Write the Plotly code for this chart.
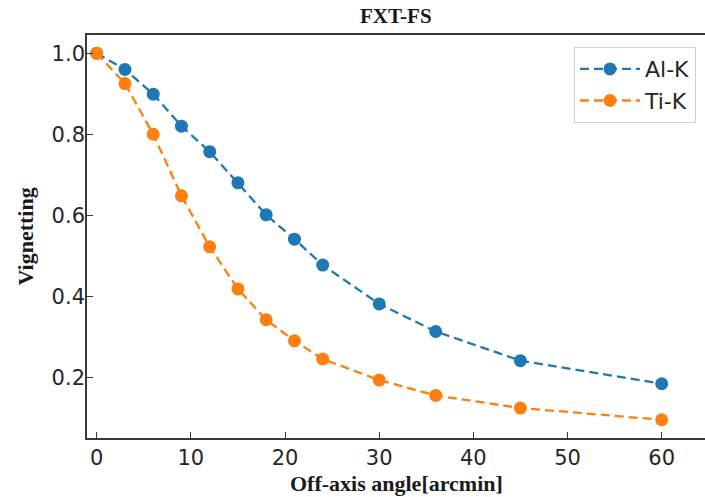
import plotly.graph_objects as go

# Off-axis angles (arcmin) and vignetting factors for the FXT-FS
angle = [0, 3, 6, 9, 12, 15, 18, 21, 24, 30, 36, 45, 60]
al_k = [1.0, 0.960, 0.899, 0.820, 0.757, 0.680, 0.601, 0.541, 0.477, 0.381, 0.313, 0.241, 0.184]
ti_k = [1.0, 0.925, 0.800, 0.648, 0.522, 0.418, 0.342, 0.290, 0.245, 0.193, 0.155, 0.124, 0.095]

x_ticks = [0, 10, 20, 30, 40, 50, 60]
y_ticks = [0.2, 0.4, 0.6, 0.8, 1.0]

BLUE = "#1f77b4"
ORANGE = "#ff7f0e"
AXIS = "#3a3a3a"
TICK_FONT = dict(family="DejaVu Sans", size=21, color="#262626")
SERIF_BOLD = "Liberation Serif"

fig = go.Figure()
for name, vals, col in [("Al-K", al_k, BLUE), ("Ti-K", ti_k, ORANGE)]:
    fig.add_trace(go.Scatter(
        x=angle, y=vals, name=name, mode="lines+markers",
        line=dict(color=col, width=2.3, dash="9px,5px"),
        marker=dict(color=col, size=13),
    ))

fig.update_layout(
    width=705, height=497,
    margin=dict(l=87, r=0, t=35, b=59),
    paper_bgcolor="white", plot_bgcolor="white",
    showlegend=True,
    legend=dict(
        x=0.788, y=0.97, xanchor="left", yanchor="top",
        bgcolor="white", bordercolor="#d0d0d0", borderwidth=1,
        font=dict(family="DejaVu Sans", size=22, color="#262626"),
        itemwidth=60, tracegroupgap=4,
    ),
    xaxis=dict(
        range=[-1.03, 64.6], tickvals=x_ticks, ticks="inside", ticklen=6,
        tickcolor=AXIS, tickwidth=1.3, showline=True, linecolor=AXIS, linewidth=1.6,
        mirror=True, showgrid=False, zeroline=False, tickfont=TICK_FONT,
    ),
    yaxis=dict(
        range=[0.05, 1.045], tickvals=y_ticks, tickformat=".1f", ticks="inside",
        ticklen=6, tickcolor=AXIS, tickwidth=1.3, showline=True, linecolor=AXIS,
        linewidth=1.6, mirror=False, showgrid=False, zeroline=False, tickfont=TICK_FONT,
        ticklabelstandoff=-4,
    ),
    annotations=[
        dict(text="<b>FXT-FS</b>", xref="paper", yref="paper", x=0.5, y=1.0,
             yshift=19, showarrow=False, yanchor="middle",
             font=dict(family=SERIF_BOLD, size=21, color="#1a1a1a")),
        dict(text="<b>Off-axis angle[arcmin]</b>", xref="paper", yref="paper",
             x=0.5, y=0, yshift=-45, showarrow=False, yanchor="middle",
             font=dict(family=SERIF_BOLD, size=22, color="#1a1a1a")),
        dict(text="<b>Vignetting</b>", xref="paper", yref="paper", x=0, y=0.5,
             xshift=-62, showarrow=False, textangle=-90, xanchor="center",
             font=dict(family=SERIF_BOLD, size=22, color="#1a1a1a")),
    ],
)

fig.write_html("out.html")
